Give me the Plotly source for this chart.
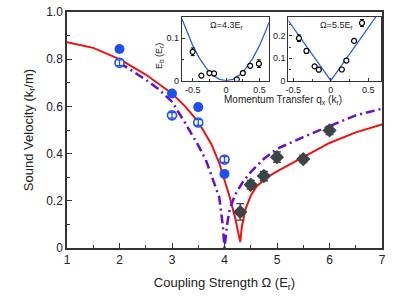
import plotly.graph_objects as go

# ---------------- data ----------------
# main panel: sound velocity vs coupling strength
filled_omega = [2.0, 3.0, 3.5, 4.0]
filled_v = [0.843, 0.655, 0.597, 0.314]

open_omega = [2.0, 3.0, 3.5, 4.0]
open_v = [0.785, 0.562, 0.532, 0.375]
open_err = [0.012, 0.012, 0.012, 0.012]

diam_omega = [4.3, 4.5, 4.75, 5.0, 5.5, 6.0]
diam_v = [0.153, 0.268, 0.305, 0.385, 0.377, 0.498]
diam_err = [0.035, 0.018, 0.02, 0.022, 0.015, 0.018]

red_omega = [1.0, 1.5, 2.0, 2.5, 3.0, 3.25, 3.5, 3.75, 3.9, 4.0, 4.1, 4.2, 4.26, 4.3,
             4.33, 4.4, 4.5, 4.6, 4.8, 5.0, 5.5, 6.0, 6.5, 7.0]
red_v = [0.872, 0.848, 0.80, 0.735, 0.655, 0.60, 0.535, 0.44, 0.36, 0.29, 0.215, 0.13, 0.07, 0.025,
         0.09, 0.165, 0.222, 0.258, 0.298, 0.325, 0.385, 0.445, 0.49, 0.523]

purple_omega = [2.0, 2.25, 2.5, 2.75, 3.0, 3.25, 3.5, 3.65, 3.8, 3.9, 3.97, 4.0,
                4.02, 4.05, 4.1, 4.2, 4.35, 4.5, 4.75, 5.0, 5.5, 6.0, 6.5, 7.0]
purple_v = [0.785, 0.75, 0.713, 0.672, 0.62, 0.53, 0.435, 0.37, 0.28, 0.215, 0.09, 0.0,
            0.04, 0.10, 0.165, 0.225, 0.28, 0.322, 0.378, 0.42, 0.47, 0.515, 0.562, 0.59]

# inset 1: Omega = 4.3 E_r
in1_q = [-0.5, -0.37, -0.25, -0.18, 0.16, 0.25, 0.36, 0.49]
in1_E = [0.068, 0.012, 0.018, 0.017, 0.003, 0.018, 0.035, 0.040]
in1_err = [0.009, 0.002, 0.003, 0.002, 0.002, 0.002, 0.004, 0.009]
in1_curve_q = [-0.66, -0.6, -0.5, -0.4, -0.3, -0.2, -0.1, 0.0, 0.1, 0.2, 0.3, 0.4, 0.5, 0.6, 0.64]
in1_curve_E = [0.145, 0.12, 0.083, 0.053, 0.03, 0.013, 0.003, 0.0, 0.003, 0.013, 0.03, 0.053, 0.083, 0.12, 0.137]

# inset 2: Omega = 5.5 E_r
in2_q = [-0.425, -0.325, -0.216, -0.16, 0.147, 0.207, 0.31, 0.416]
in2_E = [0.19, 0.133, 0.064, 0.049, 0.05, 0.09, 0.178, 0.258]
in2_err = [0.015, 0.01, 0.004, 0.004, 0.004, 0.005, 0.008, 0.015]
in2_curve_q = [-0.57, -0.4, -0.2, 0.0, 0.2, 0.4, 0.6]
in2_curve_E = [0.27, 0.19, 0.095, 0.0, 0.095, 0.19, 0.285]

main_xticks = [1, 2, 3, 4, 5, 6, 7]
main_yticks = [0, 0.2, 0.4, 0.6, 0.8, 1.0]
main_yticktext = ["0", "0.2", "0.4", "0.6", "0.8", "1.0"]

# ---------------- figure ----------------
FONT = "Liberation Sans, Arial, sans-serif"
AX = "#333333"
RED = "#f01010"
PURPLE = "#6010d0"
BLUE = "#1e50f0"
DIAM = "#3c4448"
INBLUE = "#3060e0"

fig = go.Figure()

fig.add_trace(go.Scatter(x=red_omega, y=red_v, mode="lines",
                         line=dict(color=RED, width=2), xaxis="x", yaxis="y", showlegend=False))
fig.add_trace(go.Scatter(x=purple_omega, y=purple_v, mode="lines",
                         line=dict(color=PURPLE, width=2.5, dash="9px,4px,2px,4px"),
                         xaxis="x", yaxis="y", showlegend=False))
fig.add_trace(go.Scatter(x=filled_omega, y=filled_v, mode="markers",
                         marker=dict(color=BLUE, size=10, line=dict(width=0)),
                         xaxis="x", yaxis="y", showlegend=False))
fig.add_trace(go.Scatter(x=open_omega, y=open_v, mode="markers",
                         marker=dict(color="white", size=9, line=dict(color=BLUE, width=1.6)),
                         xaxis="x", yaxis="y", showlegend=False))
# error bars drawn over the open circles
fig.add_trace(go.Scatter(x=open_omega, y=open_v, mode="markers",
                         marker=dict(size=0.1, color=BLUE, opacity=0),
                         error_y=dict(type="data", array=open_err, color=BLUE, thickness=1.3, width=4),
                         xaxis="x", yaxis="y", showlegend=False))
fig.add_trace(go.Scatter(x=diam_omega, y=diam_v, mode="markers",
                         marker=dict(color=DIAM, size=11, symbol="diamond", line=dict(width=0)),
                         error_y=dict(type="data", array=diam_err, color=DIAM, thickness=1.3, width=4),
                         xaxis="x", yaxis="y", showlegend=False))

# inset 1
fig.add_trace(go.Scatter(x=in1_curve_q, y=in1_curve_E, mode="lines",
                         line=dict(color=INBLUE, width=1.3), xaxis="x2", yaxis="y2", showlegend=False))
fig.add_trace(go.Scatter(x=in1_q, y=in1_E, mode="markers",
                         marker=dict(color="white", size=5, line=dict(color="black", width=1.2)),
                         error_y=dict(type="data", array=in1_err, color="black", thickness=1, width=2),
                         xaxis="x2", yaxis="y2", showlegend=False))
# inset 2
fig.add_trace(go.Scatter(x=in2_curve_q, y=in2_curve_E, mode="lines",
                         line=dict(color=INBLUE, width=1.3), xaxis="x3", yaxis="y3", showlegend=False))
fig.add_trace(go.Scatter(x=in2_q, y=in2_E, mode="markers",
                         marker=dict(color="white", size=5, line=dict(color="black", width=1.2)),
                         error_y=dict(type="data", array=in2_err, color="black", thickness=1, width=2),
                         xaxis="x3", yaxis="y3", showlegend=False))

axis_common = dict(showline=True, linecolor=AX, linewidth=1.5, mirror=True, automargin=False,
                   ticks="inside", tickcolor=AX, showgrid=False, zeroline=False)

inset_ax = dict(showline=True, linecolor=AX, linewidth=1.2, mirror=True, automargin=False,
                ticks="inside", tickcolor=AX, ticklen=3, showgrid=False, zeroline=False,
                tickfont=dict(size=9, color="#222"))


def px_x(p):
    return (p - 67) / 315


def px_y(p):
    return (248 - p) / 236


fig.update_layout(
    width=394, height=300,
    margin=dict(l=67, r=12, t=12, b=52, autoexpand=False),
    paper_bgcolor="white", plot_bgcolor="white",
    font=dict(family=FONT, color="#222"),
    xaxis=dict(range=[1, 7], tickvals=main_xticks, ticklen=5,
               minor=dict(dtick=0.5, ticks="inside", ticklen=3, tickcolor=AX),
               tickfont=dict(size=12),
               title=dict(text="Coupling Strength Ω (E<sub>r</sub>)", font=dict(size=13), standoff=12),
               **axis_common),
    yaxis=dict(range=[0, 1], tickvals=main_yticks, ticktext=main_yticktext, ticklen=5,
               minor=dict(dtick=0.1, ticks="inside", ticklen=3, tickcolor=AX),
               tickfont=dict(size=12),
               title=dict(text="Sound Velocity (k<sub>r</sub>/m)", font=dict(size=13), standoff=10),
               **axis_common),
    xaxis2=dict(domain=[0.365, 0.641], anchor="y2", range=[-0.66, 0.64],
                tickvals=[-0.5, 0, 0.5], ticktext=["-0.5", "0", "0.5"],
                minor=dict(dtick=0.25, ticks="inside", ticklen=2, tickcolor=AX), **inset_ax),
    yaxis2=dict(domain=[0.709, 0.979], anchor="x2", range=[0, 0.15],
                tickvals=[0, 0.1], ticktext=["0", "0.1"],
                minor=dict(dtick=0.05, ticks="inside", ticklen=2, tickcolor=AX),
                **inset_ax),
    xaxis3=dict(domain=[0.703, 0.997], anchor="y3", range=[-0.565, 0.67],
                tickvals=[-0.5, 0, 0.5], ticktext=["-0.5", "0", "0.5"],
                minor=dict(dtick=0.25, ticks="inside", ticklen=2, tickcolor=AX), **inset_ax),
    yaxis3=dict(domain=[0.709, 0.979], anchor="x3", range=[0, 0.285],
                tickvals=[0, 0.1, 0.2], ticktext=["0", "0.1", "0.2"],
                minor=dict(dtick=0.05, ticks="inside", ticklen=2, tickcolor=AX), **inset_ax),
    annotations=[
        dict(text="Ω=4.3E<sub>r</sub>", x=0.0, y=0.13, xref="x2", yref="y2",
             xanchor="center", yanchor="middle",
             showarrow=False, font=dict(size=9, color="#222")),
        dict(text="Ω=5.5E<sub>r</sub>", x=0.08, y=0.247, xref="x3", yref="y3",
             xanchor="center", yanchor="middle",
             showarrow=False, font=dict(size=9, color="#222")),
        dict(text="E<sub>b</sub> (E<sub>r</sub>)", x=px_x(160), y=px_y(56), textangle=-90,
             xanchor="center", yanchor="middle",
             xref="paper", yref="paper", showarrow=False, font=dict(size=9, color="#222")),
        dict(text="Momentum Transfer q<sub>x</sub> (k<sub>r</sub>)", x=px_x(283), y=px_y(100),
             xanchor="center", yanchor="middle",
             xref="paper", yref="paper", showarrow=False, font=dict(size=10, color="#222")),
    ],
)

fig.write_html("out.html", config={"displayModeBar": False},
               post_script="document.body.style.margin='0';")
